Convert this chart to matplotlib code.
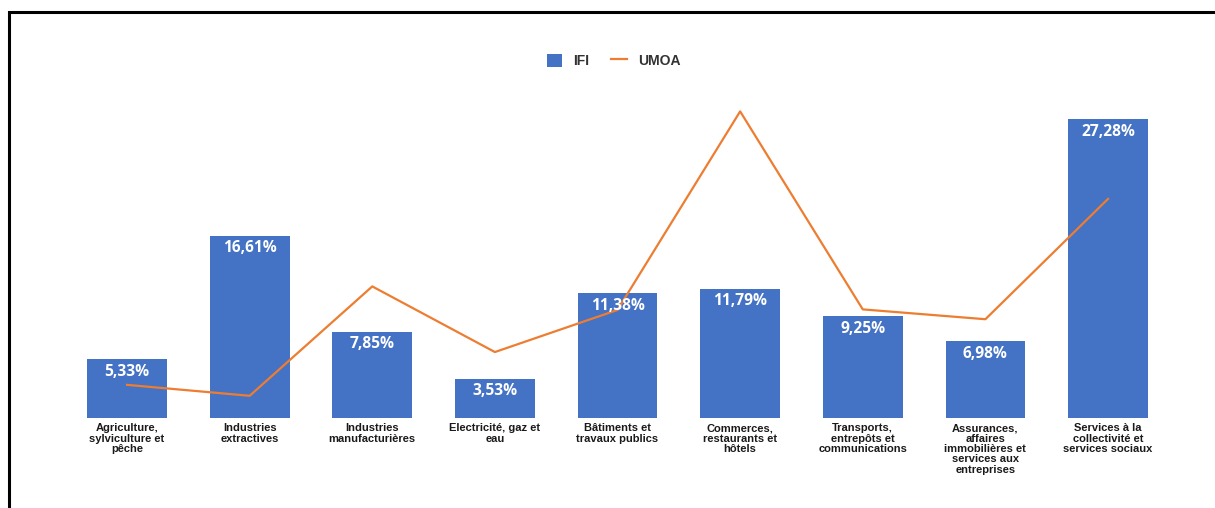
import matplotlib.pyplot as plt
from matplotlib.patches import Rectangle

plt.rcParams['font.family'] = ['Liberation Sans', 'DejaVu Sans']

# Répartition sectorielle : IFI (barres) et UMOA (courbe), en %
secteurs = ['Agriculture,\nsylviculture et\npêche',
            'Industries\nextractives',
            'Industries\nmanufacturières',
            'Electricité, gaz et\neau',
            'Bâtiments et\ntravaux publics',
            'Commerces,\nrestaurants et\nhôtels',
            'Transports,\nentrepôts et\ncommunications',
            'Assurances,\naffaires\nimmobilières et\nservices aux\nentreprises',
            'Services à la\ncollectivité et\nservices sociaux']
ifi = [5.33, 16.61, 7.85, 3.53, 11.38, 11.79, 9.25, 6.98, 27.28]
umoa = [3.0, 2.0, 12.0, 6.0, 9.85, 28.0, 9.9, 9.0, 20.0]

bleu = '#4472C4'
orange = '#ED7D31'

fig = plt.figure(figsize=(12.15, 5.08), dpi=100)
ax = fig.add_axes([0.0541, 0.1778, 0.9083, 0.646])

x = range(len(secteurs))
barres = ax.bar(x, ifi, width=0.65, color=bleu, label='IFI', zorder=2)
ligne, = ax.plot(x, umoa, color=orange, lw=1.6, label='UMOA', zorder=3)

for b, v in zip(barres, ifi):
    ax.text(b.get_x() + b.get_width() / 2, v - 0.4, f'{v:.2f}%'.replace('.', ','),
            ha='center', va='top', color='white', fontsize=11.2,
            fontweight='bold', family=['Open Sans', 'DejaVu Sans'], zorder=4)

ax.set_xlim(-0.5, len(secteurs) - 0.5)
ax.set_ylim(0, 30)
ax.set_xticks(list(x))
ax.set_xticklabels(secteurs, fontsize=8, fontweight='bold',
                   linespacing=1.05, color='#1a1a1a')
ax.tick_params(axis='x', length=0, pad=4)
ax.set_yticks([])
for s in ax.spines.values():
    s.set_visible(False)

fig.legend([barres, ligne], ['IFI', 'UMOA'], loc='center',
           bbox_to_anchor=(0.505, 0.88), ncol=2, frameon=False,
           prop={'weight': 'bold', 'size': 10}, labelcolor='#333333',
           handlelength=1.1, handleheight=1.1, columnspacing=1.6,
           handletextpad=0.8)

# cadre noir autour du graphique
fig.patches.append(Rectangle((8.5 / 1215, -0.5), 1.5, 1.5 - 12 / 508,
                             transform=fig.transFigure, fill=False,
                             edgecolor='black', lw=2.2))

fig.savefig('out.png', dpi=100)
